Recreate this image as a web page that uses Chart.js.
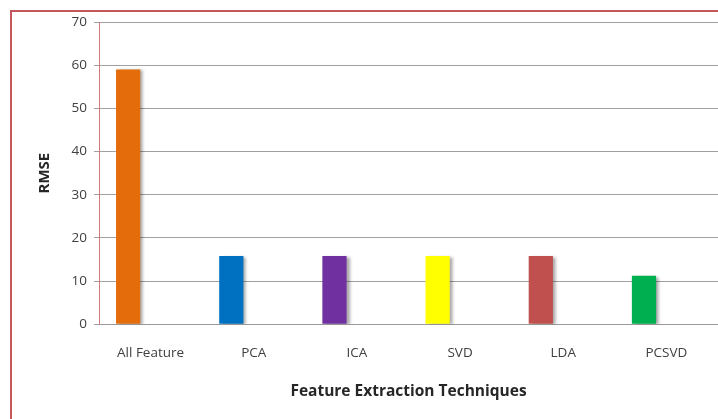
<!DOCTYPE html>
<html>
<head>
<meta charset="utf-8">
<script src="https://cdn.jsdelivr.net/npm/chart.js@4/dist/chart.umd.min.js"></script>
<style>
  html, body { margin: 0; padding: 0; background: #fff; overflow: hidden; }
  #wrap { position: relative; width: 718px; height: 419px; }
  #frame { position: absolute; left: 10px; top: 10px; width: 800px; height: 500px;
           border-left: 2px solid #c4575a; border-top: 2px solid #c4575a; }
  canvas { position: absolute; left: 0; top: 0; }
</style>
</head>
<body>
<div id="wrap">
  <div id="frame"></div>
  <canvas id="chart" width="718" height="419"></canvas>
</div>
<script>
// ── Data ──
const categories = ['All Feature', 'PCA', 'ICA', 'SVD', 'LDA', 'PCSVD'];
const rmseValues = [59, 15.8, 15.8, 15.8, 15.8, 11.2];
const barColors = ['#e46c0a', '#0070c0', '#7030a0', '#ffff00', '#c0504d', '#00b050'];
const yTicks = [0, 10, 20, 30, 40, 50, 60, 70];

const font = "'Open Sans', 'Liberation Sans', sans-serif";

// soft shadow on the right of each bar, like the Excel original
const barShadow = {
    id: 'barShadow',
    beforeDatasetsDraw(chart) {
        const ctx = chart.ctx;
        ctx.save();
        ctx.shadowColor = 'rgba(0,0,0,0.35)';
        ctx.shadowBlur = 3;
        ctx.shadowOffsetX = 3;
        ctx.shadowOffsetY = 1;
    },
    afterDatasetsDraw(chart) { chart.ctx.restore(); }
};

new Chart(document.getElementById('chart'), {
    type: 'bar',
    data: {
        labels: categories,
        datasets: [
            { label: 'RMSE', data: rmseValues, backgroundColor: barColors, borderWidth: 0 },
            // empty second series so the bars sit left of the category centre
            { label: 'spacer', data: categories.map(() => null), backgroundColor: 'transparent' }
        ]
    },
    options: {
        responsive: false, animation: false,
        categoryPercentage: 0.87, barPercentage: 0.54,
        layout: { padding: { left: 22, top: 22, right: 0, bottom: 14 } },
        scales: {
            x: {
                grid: { display: false, drawTicks: false },
                border: { color: '#9a9a9a', width: 1 },
                ticks: { color: '#404040', font: { family: font, size: 13.5 }, padding: 21, maxRotation: 0 },
                title: { display: true, text: 'Feature Extraction Techniques', color: '#262626',
                         font: { family: font, size: 15.5, weight: 'bold' }, padding: { top: 0 } }
            },
            y: {
                min: 0, max: 70,
                afterBuildTicks: s => { s.ticks = yTicks.map(v => ({ value: v })); },
                afterFit: s => { s.width = 77; },
                grid: { color: '#a0a0a0', lineWidth: 1, tickLength: 5 },
                border: { color: '#d27a7c', width: 1 },
                ticks: { color: '#404040', font: { family: font, size: 13.5 }, padding: 7 },
                title: { display: true, text: 'RMSE', color: '#262626',
                         font: { family: font, size: 15, weight: 'bold' }, padding: { top: 14, bottom: 0 } }
            }
        },
        plugins: { legend: { display: false }, tooltip: { enabled: false } }
    },
    plugins: [barShadow]
});
</script>
</body>
</html>
